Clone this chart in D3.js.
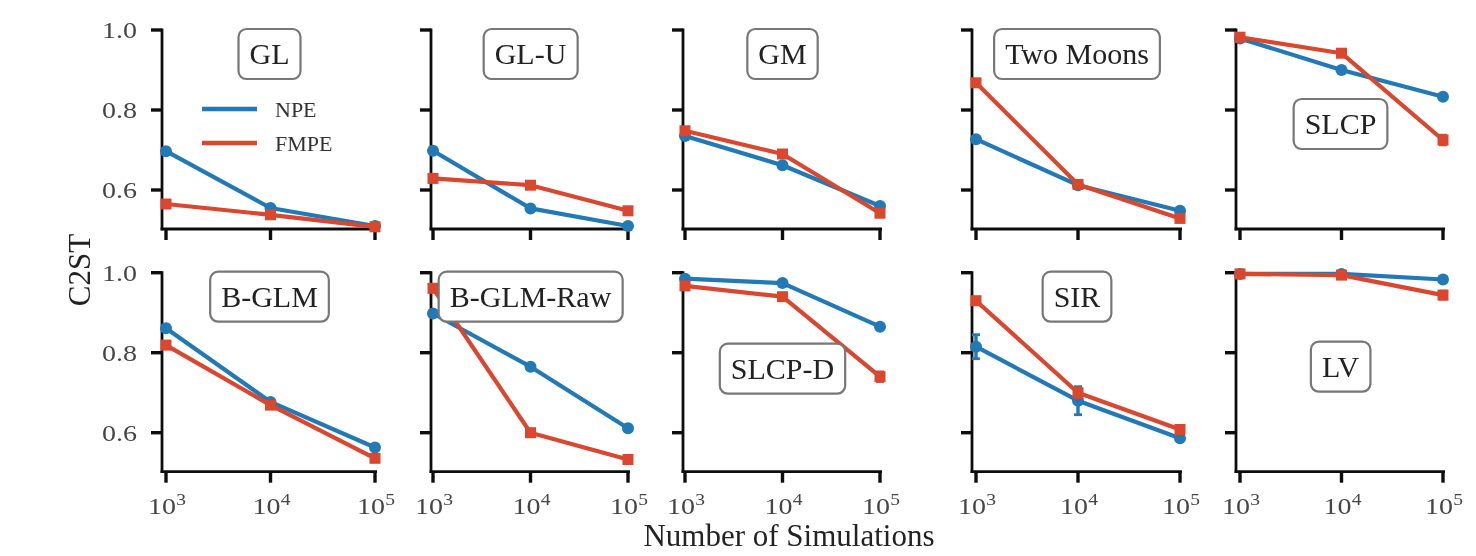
<!DOCTYPE html>
<html><head><meta charset="utf-8">
<script src="https://cdn.jsdelivr.net/npm/d3@7"></script>
<style>html,body{margin:0;padding:0;background:#fff;}svg{display:block;}</style>
</head><body>
<svg id="chart" width="1476" height="556"></svg>
<script>
// ---- data ----
const simulations = [1000, 10000, 100000];
const xTickExponents = ["3", "4", "5"];
const yTicks = [0.6, 0.8, 1.0];
const yTickLabels = ["0.6", "0.8", "1.0"];
const tasks = ["GL", "GL-U", "GM", "Two Moons", "SLCP", "B-GLM", "B-GLM-Raw", "SLCP-D", "SIR", "LV"];
const seriesNames = ["NPE", "FMPE"];
const npeValues = [
  [0.697, 0.555, 0.510],
  [0.698, 0.554, 0.510],
  [0.735, 0.662, 0.560],
  [0.727, 0.612, 0.548],
  [0.979, 0.900, 0.833],
  [0.861, 0.677, 0.563],
  [0.898, 0.765, 0.611],
  [0.985, 0.974, 0.865],
  [0.815, 0.680, 0.586],
  [0.997, 0.997, 0.983]
];
const fmpeValues = [
  [0.565, 0.538, 0.508],
  [0.629, 0.612, 0.548],
  [0.748, 0.690, 0.542],
  [0.868, 0.614, 0.529],
  [0.982, 0.942, 0.725],
  [0.819, 0.669, 0.536],
  [0.961, 0.600, 0.533],
  [0.967, 0.940, 0.740],
  [0.930, 0.700, 0.608],
  [0.997, 0.994, 0.944]
];
const npeErrors = [
  [0.006, 0.004, 0.003],
  [0.006, 0.005, 0.003],
  [0.006, 0.005, 0.004],
  [0.006, 0.004, 0.004],
  [0.005, 0.005, 0.006],
  [0.008, 0.006, 0.004],
  [0.006, 0.006, 0.006],
  [0.004, 0.006, 0.006],
  [0.030, 0.035, 0.005],
  [0.002, 0.002, 0.006]
];
const fmpeErrors = [
  [0.008, 0.005, 0.003],
  [0.007, 0.006, 0.006],
  [0.008, 0.007, 0.008],
  [0.008, 0.006, 0.006],
  [0.005, 0.008, 0.012],
  [0.007, 0.007, 0.008],
  [0.008, 0.008, 0.006],
  [0.007, 0.008, 0.012],
  [0.008, 0.012, 0.006],
  [0.002, 0.004, 0.010]
];

// ---- layout ----
const colSpineX = [162, 431, 683, 972, 1236];
const colX3 = [166, 433, 685, 976, 1240];
const colX5 = [375, 628, 880, 1180, 1443];
const rowTop = [30, 272.7];
const rowHeight = 200;
const titleFrac = [0.12, 0.12, 0.12, 0.12, 0.47, 0.12, 0.12, 0.48, 0.12, 0.47];
const colors = {NPE: "#2079b6", FMPE: "#d9462f"};
const serif = "'Liberation Serif', 'Times New Roman', serif";

const svg = d3.select("#chart");
svg.append("defs").append("filter").attr("id", "soft")
  .append("feGaussianBlur").attr("stdDeviation", 0.55);
const root = svg.append("g").attr("filter", "url(#soft)");
root.append("rect").attr("width", 1476).attr("height", 556).attr("fill", "#fff");

tasks.forEach((task, i) => {
  const row = Math.floor(i / 5), col = i % 5;
  const x = d3.scaleLog().domain([1e3, 1e5]).range([colX3[col], colX5[col]]);
  const y = d3.scaleLinear().domain([0.5, 1.0]).range([rowTop[row] + rowHeight, rowTop[row]]);
  const g = root.append("g");
  const xl = colSpineX[col], xr = colX5[col] + 2;
  const yb = y(0.5) - 1, yt = y(1.0) - 1.5;

  // spines
  g.append("line").attr("x1", xl).attr("x2", xl).attr("y1", yt).attr("y2", yb + 1.3)
    .attr("stroke", "#111").attr("stroke-width", 2.8);
  g.append("line").attr("x1", xl - 1.4).attr("x2", xr).attr("y1", yb).attr("y2", yb)
    .attr("stroke", "#111").attr("stroke-width", 2.8);

  // y ticks
  yTicks.forEach((t, k) => {
    g.append("line").attr("x1", xl - 11).attr("x2", xl).attr("y1", y(t)).attr("y2", y(t))
      .attr("stroke", "#111").attr("stroke-width", 3.4);
    if (col === 0) {
      g.append("text").attr("transform", `translate(${xl - 25},${y(t) + 8}) scale(1.22,1)`)
        .attr("text-anchor", "end").attr("font-family", serif).attr("font-size", 23)
        .attr("fill", "#444").text(yTickLabels[k]);
    }
  });
  // x ticks
  simulations.forEach((s, k) => {
    g.append("line").attr("x1", x(s)).attr("x2", x(s)).attr("y1", yb).attr("y2", yb + 11)
      .attr("stroke", "#111").attr("stroke-width", 3.4);
    if (row === 1) {
      const t = g.append("text").attr("transform", `translate(${x(s) + 1},${yb + 42}) scale(1.22,1)`)
        .attr("text-anchor", "middle").attr("font-family", serif).attr("font-size", 23)
        .attr("fill", "#444");
      t.append("tspan").text("10");
      t.append("tspan").attr("font-size", 16).attr("dy", -9).text(xTickExponents[k]);
    }
  });

  // series
  const seriesData = [
    {name: "NPE", vals: npeValues[i], errs: npeErrors[i], marker: "circle"},
    {name: "FMPE", vals: fmpeValues[i], errs: fmpeErrors[i], marker: "square"}
  ];
  seriesData.forEach(sd => {
    const pts = simulations.map((s, k) => ({s, v: sd.vals[k], e: sd.errs[k]}));
    const c = colors[sd.name];
    g.append("path").datum(pts)
      .attr("d", d3.line().x(d => x(d.s)).y(d => y(d.v)))
      .attr("fill", "none").attr("stroke", c).attr("stroke-width", 4.2)
      .attr("stroke-linejoin", "round");
    pts.forEach(d => {
      g.append("line").attr("x1", x(d.s)).attr("x2", x(d.s))
        .attr("y1", y(d.v - d.e)).attr("y2", y(d.v + d.e))
        .attr("stroke", c).attr("stroke-width", 3.4);
      [d.v - d.e, d.v + d.e].forEach(ev => {
        g.append("line").attr("x1", x(d.s) - 4).attr("x2", x(d.s) + 4)
          .attr("y1", y(ev)).attr("y2", y(ev)).attr("stroke", c).attr("stroke-width", 2.8);
      });
      if (sd.marker === "circle") {
        g.append("circle").attr("cx", x(d.s)).attr("cy", y(d.v)).attr("r", 6).attr("fill", c);
      } else {
        g.append("rect").attr("x", x(d.s) - 5.5).attr("y", y(d.v) - 5.5)
          .attr("width", 11).attr("height", 11).attr("fill", c);
      }
    });
  });

  // title box
  const cx = (xl + colX5[col]) / 2 + 1;
  const cy = rowTop[row] + titleFrac[i] * rowHeight;
  const box = g.append("rect");
  const tt = g.append("text").attr("x", cx).attr("y", cy + 10).attr("text-anchor", "middle")
    .attr("font-family", serif).attr("font-size", 30).attr("fill", "#222").text(task);
  const bb = tt.node().getBBox();
  box.attr("x", bb.x - 11).attr("y", cy - 25).attr("width", bb.width + 22).attr("height", 50)
    .attr("rx", 8).attr("fill", "#fff").attr("stroke", "#777").attr("stroke-width", 2.2);

  // legend in first panel
  if (i === 0) {
    seriesNames.forEach((n, k) => {
      const ly = 109 + k * 34;
      g.append("line").attr("x1", 202).attr("x2", 257).attr("y1", ly).attr("y2", ly)
        .attr("stroke", colors[n]).attr("stroke-width", 4.4);
      g.append("text").attr("x", 275).attr("y", ly + 8).attr("font-family", serif)
        .attr("font-size", 22).attr("fill", "#333").text(n);
    });
  }
});

// axis labels
root.append("text").attr("x", 789).attr("y", 546).attr("text-anchor", "middle")
  .attr("font-family", serif).attr("font-size", 31).attr("fill", "#222").text("Number of Simulations");
root.append("text").attr("transform", "translate(90,270) rotate(-90)").attr("text-anchor", "middle")
  .attr("font-family", serif).attr("font-size", 31).attr("fill", "#222").text("C2ST");
</script>
</body></html>
